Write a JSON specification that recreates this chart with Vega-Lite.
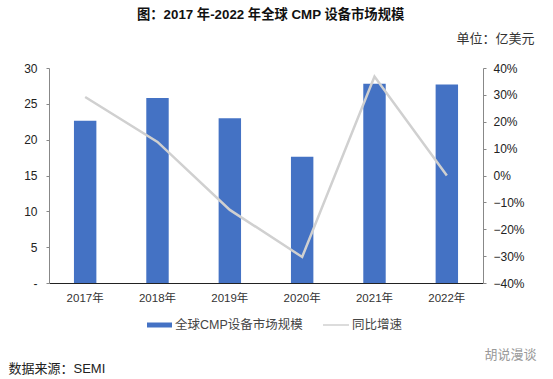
{
"$schema":"https://vega.github.io/schema/vega-lite/v6.json",
"width":434,"height":215,
"autosize":"none",
"padding":{"left":49,"top":68,"right":70,"bottom":96},
"background":"white",
"title":{"text":"图：2017 年-2022 年全球 CMP 设备市场规模","font":"Liberation Sans, Noto Sans CJK SC","fontSize":13.3,"fontWeight":"bold","color":"#111111","anchor":"start","frame":"group","dx":88,"offset":11},
"data":{"values":[
{"year":"2017年","size":22.65,"growth":0.292},
{"year":"2018年","size":25.8,"growth":0.125},
{"year":"2019年","size":23.0,"growth":-0.128},
{"year":"2020年","size":17.6,"growth":-0.303},
{"year":"2021年","size":27.8,"growth":0.368},
{"year":"2022年","size":27.7,"growth":0.0}
]},
"encoding":{"x":{"field":"year","type":"nominal","sort":null,"scale":{"paddingInner":0.69,"paddingOuter":0.345},
"axis":{"labelAngle":0,"labelFont":"Liberation Sans, Noto Sans CJK SC","labelFontSize":11.5,"labelColor":"#333333","labelPadding":9,"domainColor":"#222222","ticks":false,"title":"数据来源：SEMI","titleFont":"Liberation Sans, Noto Sans CJK SC","titleFontSize":13,"titleFontWeight":"normal","titleColor":"#222222","titleX":-41,"titleY":85,"titleAlign":"left","titleBaseline":"middle"}}},
"layer":[
{"mark":{"type":"bar"},
"encoding":{"y":{"field":"size","type":"quantitative","scale":{"domain":[0,30]},
"axis":{"values":[0,5,10,15,20,25,30],"labelExpr":"datum.value==0?'-':datum.label","grid":false,"labelFont":"Liberation Sans","labelFontSize":12,"labelColor":"#222222","domainColor":"#888888","tickColor":"#888888","tickSize":3,"labelPadding":9,"title":"胡说漫谈","titleFont":"Liberation Sans, Noto Sans CJK SC","titleFontSize":13,"titleFontWeight":"normal","titleColor":"#999999","titleAngle":0,"titleX":435,"titleY":286,"titleAlign":"left","titleBaseline":"middle"}},
"fill":{"datum":"全球CMP设备市场规模","scale":{"range":["#4472C4"]},
"legend":{"orient":"none","legendX":97,"legendY":243.5,"title":null,"symbolType":"M-1,-0.2H1V0.2H-1Z","symbolSize":625,"labelFont":"Liberation Sans, Noto Sans CJK SC","labelFontSize":12.5,"labelColor":"#444444","labelOffset":2}}}},
{"mark":{"type":"line","color":"#D0D0D0","strokeWidth":2.5},
"encoding":{"y":{"field":"growth","type":"quantitative","scale":{"domain":[-0.4,0.4]},
"axis":{"orient":"right","values":[-0.4,-0.3,-0.2,-0.1,0,0.1,0.2,0.3,0.4],"format":".0%","grid":false,"labelFont":"Liberation Sans","labelFontSize":12,"labelColor":"#222222","domainColor":"#888888","tickColor":"#888888","tickSize":3,"labelPadding":7,"title":"单位：亿美元","titleFont":"Liberation Sans, Noto Sans CJK SC","titleFontSize":13,"titleFontWeight":"normal","titleColor":"#333333","titleAngle":0,"titleX":51,"titleY":-30,"titleAlign":"right","titleBaseline":"middle"}},
"stroke":{"datum":"同比增速","scale":{"range":["#D0D0D0"]},
"legend":{"orient":"none","legendX":273,"legendY":243,"title":null,"symbolType":"stroke","symbolSize":676,"symbolStrokeWidth":1.5,"labelFont":"Liberation Sans, Noto Sans CJK SC","labelFontSize":12.5,"labelColor":"#444444","labelOffset":2}}}}
],
"resolve":{"scale":{"y":"independent","fill":"independent","stroke":"independent"}},
"config":{"view":{"stroke":null}}
}
